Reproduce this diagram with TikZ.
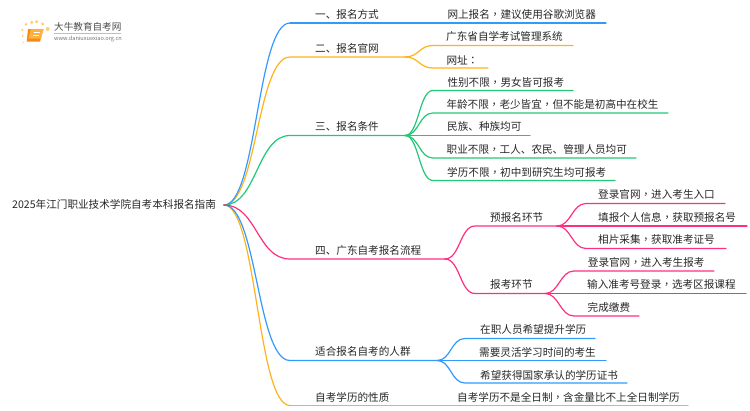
\documentclass[tikz,border=0pt]{standalone}
\usepackage{fontspec}
\setmainfont{Noto Sans CJK SC}
\newfontfamily\MMpunct{Noto Sans CJK TC}
\newcommand{\cm}{{\MMpunct ，}}

\definecolor{LineBlue}{HTML}{3399FF}
\definecolor{LineOrange}{HTML}{FFB31A}
\definecolor{LineGreen}{HTML}{22C777}
\definecolor{LinePink}{HTML}{FF2E80}
\definecolor{LogoOrange}{HTML}{F28C14}
\definecolor{LogoLight}{HTML}{FFB040}
\definecolor{LogoDot}{HTML}{FFCF80}

\tikzset{
  MM text/.style={anchor=west, inner sep=0pt, text=black!85, font=\fontsize{10.6pt}{12pt}\selectfont},
  MM line/.style={draw=#1, line width=1.2pt, line cap=round},
  MM blue/.style={MM line=LineBlue},
  MM orange/.style={MM line=LineOrange},
  MM green/.style={MM line=LineGreen},
  MM pink/.style={MM line=LinePink},
  Logo dot/.style={circle, fill=LogoDot, inner sep=0pt, minimum size=#1}
}

\begin{document}
\begin{tikzpicture}[x=1pt, y=-1pt]
\useasboundingbox (0,0) rectangle (750,410);

% logo
\node[Logo dot=3.5pt] (sun a) at (36.7,21.7) {};
\node[Logo dot=3.5pt] (sun b) at (31.7,22.3) {};
\node[Logo dot=3pt] (sun c) at (26,24.3) {};
\node[Logo dot=2.5pt] (sun d) at (22.3,30) {};
\node[Logo dot=2pt] (sun e) at (22.7,36) {};
\node[Logo dot=1.5pt] (sun f) at (23.3,42.3) {};
\node[Logo dot=3.5pt] (sun g) at (42.7,24) {};
\node[Logo dot=4pt] (sun h) at (47.7,29) {};
\fill[LogoOrange] (28,29) -- (43.5,29) -- (40,41.7) -- (26.7,41.7) -- cycle;
\fill[LogoLight] (31,29) -- (43.5,29) -- (41,38.5) -- (28.5,38.5) -- cycle;
\draw[white, line width=.6pt] (33.5,32) -- (39.5,32) (32.8,35) -- (38.8,35);
\node[anchor=west, inner sep=0pt, text=black!70, font=\fontsize{9.6pt}{10pt}\selectfont] (logo name) at (54,26.8) {大牛教育自考网};
\node[anchor=west, inner sep=0pt, text=black!55, font=\fontsize{5.6pt}{6pt}\selectfont] (logo site) at (54,38.6) {www.daniuxuexiao.org.cn};
\draw[black!25, line width=.5pt] (logo name.south west) ++(0,1.5) -- ++(67,0);

% root
\node[MM text] (root) at (12,204) {2025年江门职业技术学院自考本科报名指南};
\coordinate (hub) at (224,205);

% first level
\node[MM text] (way) at (315,14.5) {一、报名方式};
\node[MM text] (site) at (315,48) {二、报名官网};
\node[MM text] (cond) at (315,126.5) {三、报名条件};
\node[MM text] (flow) at (315,250.7) {四、广东自考报名流程};
\node[MM text] (crowd) at (315,351.7) {适合报名自考的人群};
\node[MM text] (kind) at (315,397) {自考学历的性质};

\coordinate (way a) at (290,23);
\coordinate (site a) at (290,57);
\coordinate (cond a) at (290,135.5);
\coordinate (flow a) at (290,259);
\coordinate (crowd a) at (290,360.5);
\coordinate (kind a) at (290,405.5);

\coordinate (site b) at (405,57);
\coordinate (cond b) at (405,135.5);
\coordinate (flow b) at (445,259);
\coordinate (crowd b) at (437,360.5);

\draw[MM orange] (hub) .. controls +(33,0) and +(-33,0) .. (kind a);
\draw[MM orange] (hub) .. controls +(33,0) and +(-33,0) .. (site a) -- (site b);
\draw[MM blue] (hub) .. controls +(33,0) and +(-33,0) .. (crowd a) -- (crowd b);
\draw[MM blue] (hub) .. controls +(33,0) and +(-33,0) .. (way a);
\draw[MM green] (hub) .. controls +(33,0) and +(-33,0) .. (cond a) -- (cond b);
\draw[MM pink] (hub) .. controls +(33,0) and +(-33,0) .. (flow a) -- (flow b);

% way
\node[MM text] (way x) at (447.3,14.5) {网上报名\cm 建议使用谷歌浏览器};
\coordinate (way e) at (606,23);
\draw[MM blue] (way a) -- (way e);

% site
\node[MM text] (site x) at (446,36.5) {广东省自学考试管理系统};
\node[MM text] (site y) at (446.3,60) {网址{\MMpunct ：}};
\coordinate (site xa) at (433,45.5);
\coordinate (site ya) at (433,68);
\coordinate (site xe) at (573,45.5);
\coordinate (site ye) at (488,68);
\draw[MM orange] (site b) .. controls +(14,0) and +(-14,0) .. (site xa) -- (site xe);
\draw[MM orange] (site b) .. controls +(14,0) and +(-14,0) .. (site ya) -- (site ye);

% cond
\node[MM text] (cond x) at (447.3,82) {性别不限\cm 男女皆可报考};
\node[MM text] (cond y) at (446.3,104.5) {年龄不限\cm 老少皆宜\cm 但不能是初高中在校生};
\node[MM text] (cond z) at (447,126.5) {民族、种族均可};
\node[MM text] (cond u) at (446.5,149.5) {职业不限\cm 工人、农民、管理人员均可};
\node[MM text] (cond v) at (447,172) {学历不限\cm 初中到研究生均可报考};
\coordinate (cond xa) at (433,90.5);
\coordinate (cond ya) at (433,113);
\coordinate (cond ua) at (433,158);
\coordinate (cond va) at (433,180.5);
\coordinate (cond xe) at (573,90.5);
\coordinate (cond ye) at (668,113);
\coordinate (cond ze) at (530,135.5);
\coordinate (cond ue) at (636,158);
\coordinate (cond ve) at (615,180.5);
\draw[MM green] (cond b) .. controls +(14,0) and +(-14,0) .. (cond xa) -- (cond xe);
\draw[MM green] (cond b) .. controls +(14,0) and +(-14,0) .. (cond ya) -- (cond ye);
\draw[MM green] (cond b) -- (cond ze);
\draw[MM green] (cond b) .. controls +(14,0) and +(-14,0) .. (cond ua) -- (cond ue);
\draw[MM green] (cond b) .. controls +(14,0) and +(-14,0) .. (cond va) -- (cond ve);

% flow
\node[MM text] (pre) at (490,217) {预报名环节};
\node[MM text] (exam) at (490,284) {报考环节};
\coordinate (pre a) at (475,226);
\coordinate (exam a) at (475,293.5);
\coordinate (pre b) at (557,226);
\coordinate (exam b) at (545,293.5);
\draw[MM pink] (flow b) .. controls +(15,0) and +(-15,0) .. (pre a) -- (pre b);
\draw[MM pink] (flow b) .. controls +(15,0) and +(-15,0) .. (exam a) -- (exam b);

\node[MM text] (pre x) at (598,194.5) {登录官网\cm 进入考生入口};
\node[MM text] (pre y) at (598,217) {填报个人信息\cm 获取预报名号};
\node[MM text] (pre z) at (598,239) {相片采集\cm 获取准考证号};
\coordinate (pre xa) at (586,203.5);
\coordinate (pre za) at (586,248.5);
\coordinate (pre xe) at (725,203.5);
\coordinate (pre ye) at (747,226);
\coordinate (pre ze) at (726,248.5);
\draw[MM pink] (pre b) .. controls +(14,0) and +(-14,0) .. (pre xa) -- (pre xe);
\draw[MM pink] (pre b) -- (pre ye);
\draw[MM pink] (pre b) .. controls +(14,0) and +(-14,0) .. (pre za) -- (pre ze);

\node[MM text] (exam x) at (587.7,262) {登录官网\cm 进入考生报考};
\node[MM text] (exam y) at (587,284.5) {输入准考号登录\cm 选考区报课程};
\node[MM text] (exam z) at (587.5,307) {完成缴费};
\coordinate (exam xa) at (574,271);
\coordinate (exam za) at (574,316);
\coordinate (exam xe) at (714,271);
\coordinate (exam ye) at (746,293.5);
\coordinate (exam ze) at (639,316);
\draw[MM pink] (exam b) .. controls +(14,0) and +(-14,0) .. (exam xa) -- (exam xe);
\draw[MM pink] (exam b) -- (exam ye);
\draw[MM pink] (exam b) .. controls +(14,0) and +(-14,0) .. (exam za) -- (exam ze);

% crowd
\node[MM text] (crowd x) at (480,329) {在职人员希望提升学历};
\node[MM text] (crowd y) at (479,352) {需要灵活学习时间的考生};
\node[MM text] (crowd z) at (480,375) {希望获得国家承认的学历证书};
\coordinate (crowd xa) at (465,338.5);
\coordinate (crowd za) at (465,383);
\coordinate (crowd xe) at (595,338.5);
\coordinate (crowd ye) at (606,360.5);
\coordinate (crowd ze) at (627,383);
\draw[MM blue] (crowd b) .. controls +(14,0) and +(-14,0) .. (crowd xa) -- (crowd xe);
\draw[MM blue] (crowd b) -- (crowd ye);
\draw[MM blue] (crowd b) .. controls +(14,0) and +(-14,0) .. (crowd za) -- (crowd ze);

% kind
\node[MM text] (kind x) at (457,397) {自考学历不是全日制\cm 含金量比不上全日制学历};
\coordinate (kind e) at (688,405.5);
\draw[MM orange] (kind a) -- (kind e);
\end{tikzpicture}
\end{document}
